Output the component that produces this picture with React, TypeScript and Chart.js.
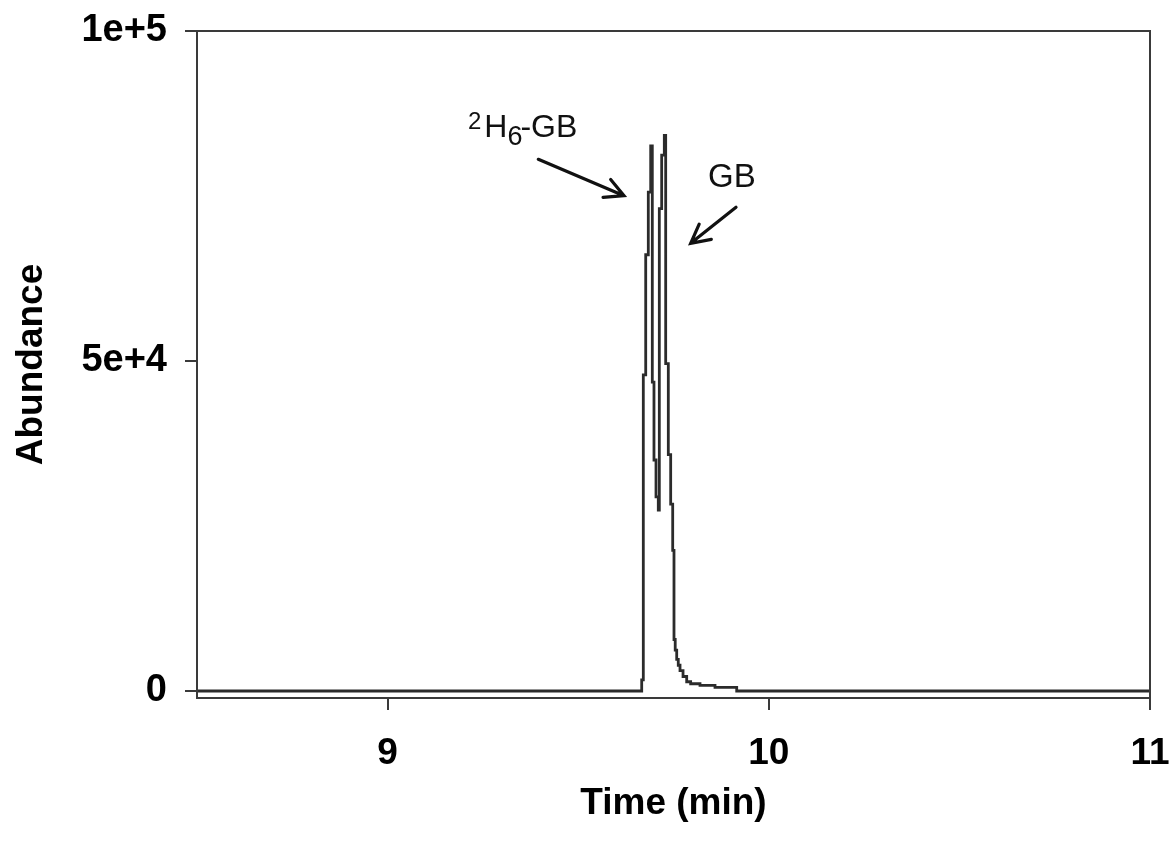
import React, { useEffect, useRef } from "react";
import { Chart, registerables } from "chart.js";

Chart.register(...registerables);

// Retention time (min) at which each level starts, and the abundance held from there
const times = [
  8.5, 9.6666, 9.6708, 9.6771, 9.6839, 9.6902, 9.6944, 9.6988, 9.7041, 9.7101,
  9.7128, 9.719, 9.7259, 9.7295, 9.7364, 9.7426, 9.7479, 9.7513, 9.7545, 9.7584,
  9.7625, 9.7671, 9.775, 9.7846, 9.795, 9.8195, 9.8589, 9.9158, 11,
];
const abundance = [
  0, 1680, 47900, 66100, 75600, 82600, 46800, 35000, 29400, 27400,
  73100, 81200, 84200, 49600, 35800, 28300, 21300, 7800, 6200, 4800,
  3900, 3100, 2200, 1400, 1100, 850, 560, 0, 0,
];

const xTickValues = [9, 10, 11];
const xTickLabels = ["9", "10", "11"];
const yTickValues = [0, 50000, 100000];
const yTickLabels = ["0", "5e+4", "1e+5"];

const xTitle = "Time (min)";
const yTitle = "Abundance";

// Annotation labels: [time, abundance] of text start and arrows (start -> tip)
const labelLabeled = { sup: "2", main: "H", sub: "6", rest: "-GB" };
const labelLabeledAt = [9.2109, 83940];
const labelNative = "GB";
const labelNativeAt = [9.8405, 76360];
const arrowLabeled = [9.3953, 80560, 9.6201, 75045];
const arrowNative = [9.914, 73290, 9.7951, 67830];

const FONT = "'Liberation Sans', Arial, Helvetica, sans-serif";
const AXIS_COLOR = "#3a3a3a";

const framePlugin = {
  id: "frame",
  afterDraw(chart: any) {
    const { ctx, chartArea } = chart;
    ctx.save();
    ctx.strokeStyle = AXIS_COLOR;
    ctx.lineWidth = 2;
    ctx.strokeRect(
      chartArea.left,
      chartArea.top,
      chartArea.right - chartArea.left,
      chartArea.bottom - chartArea.top
    );
    ctx.restore();
  },
};

const annotationPlugin = {
  id: "annotations",
  afterDatasetsDraw(chart: any) {
    const { ctx } = chart;
    const xs = chart.scales.x;
    const ys = chart.scales.y;
    const px = (t: number) => xs.getPixelForValue(t);
    const py = (v: number) => ys.getPixelForValue(v);

    const drawArrow = (a: number[]) => {
      const x1 = px(a[0]);
      const y1 = py(a[1]);
      const x2 = px(a[2]);
      const y2 = py(a[3]);
      const ang = Math.atan2(y2 - y1, x2 - x1);
      const head = 21;
      const spread = Math.PI / 6.5;
      ctx.save();
      ctx.strokeStyle = "#111";
      ctx.lineWidth = 3.2;
      ctx.lineCap = "round";
      ctx.beginPath();
      ctx.moveTo(x1, y1);
      ctx.lineTo(x2, y2);
      ctx.moveTo(x2 - head * Math.cos(ang - spread), y2 - head * Math.sin(ang - spread));
      ctx.lineTo(x2, y2);
      ctx.lineTo(x2 - head * Math.cos(ang + spread), y2 - head * Math.sin(ang + spread));
      ctx.stroke();
      ctx.restore();
    };

    drawArrow(arrowLabeled);
    drawArrow(arrowNative);

    ctx.save();
    ctx.fillStyle = "#111";
    ctx.textBaseline = "alphabetic";
    ctx.textAlign = "left";
    let x = px(labelLabeledAt[0]);
    const y = py(labelLabeledAt[1]);
    ctx.font = `24px ${FONT}`;
    ctx.fillText(labelLabeled.sup, x, y - 8);
    x += ctx.measureText(labelLabeled.sup).width + 3;
    ctx.font = `32px ${FONT}`;
    ctx.fillText(labelLabeled.main, x, y);
    x += ctx.measureText(labelLabeled.main).width;
    ctx.font = `27px ${FONT}`;
    ctx.fillText(labelLabeled.sub, x, y + 8);
    x += ctx.measureText(labelLabeled.sub).width - 2;
    ctx.font = `32px ${FONT}`;
    ctx.fillText(labelLabeled.rest, x, y);

    ctx.font = `33px ${FONT}`;
    ctx.fillText(labelNative, px(labelNativeAt[0]), py(labelNativeAt[1]));
    ctx.restore();
  },
};

export default function App() {
  const canvasRef = useRef<HTMLCanvasElement | null>(null);

  useEffect(() => {
    const canvas = canvasRef.current;
    if (!canvas) return;
    const chart = new Chart(canvas, {
      type: "line",
      data: {
        datasets: [
          {
            data: times.map((t, i) => ({ x: t, y: abundance[i] })),
            borderColor: "#2b2b2b",
            borderWidth: 2.8,
            pointRadius: 0,
            stepped: true,
            fill: false,
          },
        ],
      },
      options: {
        responsive: false,
        animation: false,
        maintainAspectRatio: false,
        layout: { padding: { left: 0, right: 25, top: 31, bottom: 0 } },
        plugins: {
          legend: { display: false },
          tooltip: { enabled: false },
          title: { display: false },
        },
        scales: {
          x: {
            type: "linear",
            min: 8.5,
            max: 11,
            afterBuildTicks: (scale: any) => {
              scale.ticks = xTickValues.map((v) => ({ value: v }));
            },
            afterFit: (scale: any) => {
              scale.height = 144;
              scale.paddingLeft = 0;
              scale.paddingRight = 0;
            },
            ticks: {
              autoSkip: false,
              maxRotation: 0,
              padding: 22,
              color: "#000",
              font: { family: FONT, size: 37, weight: "bold" },
              callback: (v: any) => xTickLabels[xTickValues.indexOf(Number(v))] ?? "",
            },
            grid: {
              drawOnChartArea: false,
              drawTicks: true,
              tickLength: 12,
              color: AXIS_COLOR,
              lineWidth: 2,
            },
            border: { display: true, color: AXIS_COLOR, width: 2 },
            title: {
              display: true,
              text: xTitle,
              color: "#000",
              font: { family: FONT, size: 37, weight: "bold" },
              padding: { top: 0, bottom: 16 },
            },
          },
          y: {
            type: "linear",
            min: -1060,
            max: 100000,
            afterBuildTicks: (scale: any) => {
              scale.ticks = yTickValues.map((v) => ({ value: v }));
            },
            afterFit: (scale: any) => {
              scale.width = 197;
              scale.paddingTop = 0;
              scale.paddingBottom = 0;
            },
            ticks: {
              autoSkip: false,
              padding: 18,
              color: "#000",
              font: { family: FONT, size: 38, weight: "bold" },
              callback: (v: any) => yTickLabels[yTickValues.indexOf(Number(v))] ?? "",
            },
            grid: {
              drawOnChartArea: false,
              drawTicks: true,
              tickLength: 12,
              color: AXIS_COLOR,
              lineWidth: 2,
            },
            border: { display: true, color: AXIS_COLOR, width: 2 },
            title: {
              display: true,
              text: yTitle,
              color: "#000",
              font: { family: FONT, size: 37, weight: "bold" },
              padding: { top: 10, bottom: 0 },
            },
          },
        },
      },
      plugins: [framePlugin, annotationPlugin],
    } as any);
    return () => chart.destroy();
  }, []);

  return (
    <div
      style={{
        position: "fixed",
        left: 0,
        top: 0,
        width: 1175,
        height: 842,
        background: "#fff",
      }}
    >
      <canvas ref={canvasRef} width={1175} height={842} style={{ display: "block" }} />
    </div>
  );
}
